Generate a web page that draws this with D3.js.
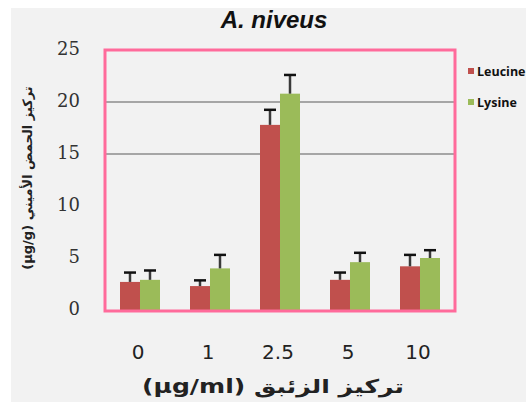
<!DOCTYPE html>
<html>
<head>
<meta charset="utf-8">
<script src="https://cdn.jsdelivr.net/npm/d3@7"></script>
<style>
  body { margin: 0; background: #fff; }
  svg { display: block; }
</style>
</head>
<body>
<script>
// data
const categories = ["0", "1", "2.5", "5", "10"];
const seriesNames = ["Leucine", "Lysine"];
const leucine = [2.7, 2.3, 17.8, 2.9, 4.2];
const lysine = [2.9, 4.0, 20.8, 4.6, 5.0];
const leucineErr = [0.9, 0.55, 1.45, 0.7, 1.1];
const lysineErr = [0.9, 1.3, 1.8, 0.9, 0.75];
const yTicks = [0, 5, 10, 15, 20, 25];
const gridValues = [15, 20];

const colors = ["#c0504d", "#9bbb59"];

const W = 526, H = 402;
const plot = {left: 105, right: 455, top: 50, bottom: 310};

const svg = d3.select("body").append("svg")
  .attr("width", W)
  .attr("height", H);

// grey chart area
svg.append("rect")
  .attr("x", 11).attr("y", 8)
  .attr("width", W - 11).attr("height", H - 8)
  .attr("fill", "#f2f2f2");

const x = d3.scaleBand()
  .domain(categories)
  .range([plot.left, plot.right])
  .paddingInner(0.4286)
  .paddingOuter(0.2143);

const x1 = d3.scaleBand()
  .domain(seriesNames)
  .range([0, x.bandwidth()]);

const y = d3.scaleLinear()
  .domain([0, 25])
  .range([plot.bottom, plot.top]);

// gridlines
svg.append("g")
  .selectAll("line")
  .data(gridValues)
  .enter()
  .append("line")
  .attr("x1", plot.left)
  .attr("x2", plot.right)
  .attr("y1", d => y(d))
  .attr("y2", d => y(d))
  .attr("stroke", "#a6a6a6")
  .attr("stroke-width", 2);

const rows = categories.map((c, i) => ({
  cat: c,
  vals: [
    {name: seriesNames[0], v: leucine[i], e: leucineErr[i], c: colors[0]},
    {name: seriesNames[1], v: lysine[i], e: lysineErr[i], c: colors[1]}
  ]
}));

const groups = svg.append("g")
  .selectAll("g")
  .data(rows)
  .enter()
  .append("g")
  .attr("transform", d => "translate(" + x(d.cat) + ",0)");

groups.selectAll("rect")
  .data(d => d.vals)
  .enter()
  .append("rect")
  .attr("x", d => x1(d.name))
  .attr("width", x1.bandwidth())
  .attr("y", d => y(d.v))
  .attr("height", d => y(0) - y(d.v))
  .attr("fill", d => d.c);

// error bars, plus direction only
const err = groups.selectAll("g.err")
  .data(d => d.vals)
  .enter()
  .append("g")
  .attr("class", "err");

err.append("line")
  .attr("x1", d => x1(d.name) + x1.bandwidth() / 2)
  .attr("x2", d => x1(d.name) + x1.bandwidth() / 2)
  .attr("y1", d => y(d.v))
  .attr("y2", d => y(d.v + d.e))
  .attr("stroke", "#3a3a3a")
  .attr("stroke-width", 2.5);

err.append("line")
  .attr("x1", d => x1(d.name) + x1.bandwidth() / 2 - 6)
  .attr("x2", d => x1(d.name) + x1.bandwidth() / 2 + 6)
  .attr("y1", d => y(d.v + d.e))
  .attr("y2", d => y(d.v + d.e))
  .attr("stroke", "#111")
  .attr("stroke-width", 2.5);

// pink frame
svg.append("rect")
  .attr("x", plot.left)
  .attr("y", plot.top)
  .attr("width", plot.right - plot.left)
  .attr("height", plot.bottom - plot.top + 1)
  .attr("fill", "none")
  .attr("stroke", "#ff6b9b")
  .attr("stroke-width", 3);

// y tick labels
svg.append("g")
  .selectAll("text")
  .data(yTicks)
  .enter()
  .append("text")
  .attr("x", 80)
  .attr("y", d => y(d) - 1)
  .attr("dy", "0.35em")
  .attr("text-anchor", "end")
  .attr("font-family", "DejaVu Serif")
  .attr("font-size", 18)
  .attr("fill", "#333")
  .text(d => d);

// x tick labels
svg.append("g")
  .selectAll("text")
  .data(categories)
  .enter()
  .append("text")
  .attr("x", d => x(d) + x.bandwidth() / 2 - 2)
  .attr("y", 359)
  .attr("text-anchor", "middle")
  .attr("font-family", "DejaVu Sans")
  .attr("font-size", 20)
  .attr("fill", "#222")
  .text(d => d);

// title
svg.append("text")
  .attr("x", 274)
  .attr("y", 28)
  .attr("text-anchor", "middle")
  .attr("font-family", "Liberation Sans")
  .attr("font-weight", "bold")
  .attr("font-style", "italic")
  .attr("font-size", 24)
  .attr("fill", "#111")
  .text("A. niveus");

// axis titles
svg.append("text")
  .attr("transform", "translate(32,178) rotate(-90)")
  .attr("text-anchor", "middle")
  .attr("font-family", "DejaVu Sans")
  .attr("font-weight", "bold")
  .attr("font-size", 13)
  .attr("fill", "#222")
  .attr("direction", "rtl")
  .text("تركيز الحمض الأميني (µg/g)");

svg.append("text")
  .attr("x", 273)
  .attr("y", 393)
  .attr("text-anchor", "middle")
  .attr("font-family", "DejaVu Sans")
  .attr("font-weight", "bold")
  .attr("font-size", 19)
  .attr("textLength", 262)
  .attr("lengthAdjust", "spacingAndGlyphs")
  .attr("fill", "#222")
  .attr("direction", "rtl")
  .text("تركيز الزئبق (µg/ml)");

// legend
const legend = svg.append("g")
  .selectAll("g")
  .data(seriesNames)
  .enter()
  .append("g")
  .attr("transform", (d, i) => "translate(468," + (68 + i * 31) + ")");

legend.append("rect")
  .attr("width", 6)
  .attr("height", 6)
  .attr("fill", (d, i) => colors[i]);

legend.append("text")
  .attr("x", 9)
  .attr("y", 7.5)
  .attr("font-family", "Open Sans")
  .attr("font-weight", "bold")
  .attr("font-size", 12.5)
  .attr("fill", "#111")
  .text(d => d);
</script>
</body>
</html>
